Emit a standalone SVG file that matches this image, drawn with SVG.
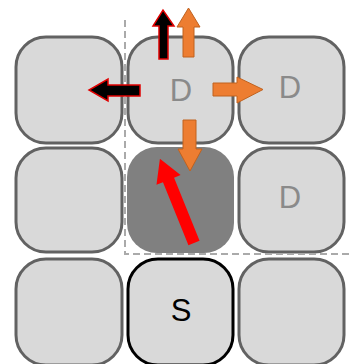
<svg xmlns="http://www.w3.org/2000/svg" width="352" height="364" viewBox="0 0 352 364">
<style>
.cell{fill:#d9d9d9;stroke:#626262;stroke-width:3}
.dark{fill:#808080;stroke:none}
.start{fill:#d9d9d9;stroke:#000;stroke-width:3}
.lbl{font-family:"Liberation Sans",Arial,sans-serif;font-size:31px;text-anchor:middle;fill:#8a8a8a}
.lblS{font-family:"Liberation Sans",Arial,sans-serif;font-size:31px;text-anchor:middle;fill:#000}
.dash{fill:none;stroke:#aaaaaa;stroke-width:2;stroke-dasharray:7,4}
.blk{fill:#000;stroke:#e00000;stroke-width:1.5;stroke-linejoin:miter}
.org{fill:#ed7d31;stroke:#c0621f;stroke-width:1}
.red{fill:#ff0000;stroke:none}
</style>
<g id="cells">
<g id="c11"><rect class="cell" x="16" y="37" width="106" height="106" rx="30"/></g>
<g id="c12"><rect class="cell" x="128" y="37" width="105" height="106" rx="30"/><text class="lbl" x="181" y="101">D</text></g>
<g id="c13"><rect class="cell" x="239" y="37" width="105" height="106" rx="30"/><text class="lbl" x="290" y="98">D</text></g>
<g id="c21"><rect class="cell" x="16" y="148" width="106" height="104" rx="30"/></g>
<g id="c22"><rect class="dark" x="127" y="147" width="107" height="106" rx="30"/></g>
<g id="c23"><rect class="cell" x="239" y="148" width="105" height="104" rx="30"/><text class="lbl" x="290" y="208">D</text></g>
<g id="c31"><rect class="cell" x="16" y="259" width="106" height="106" rx="30"/></g>
<g id="c32"><rect class="start" x="128" y="259" width="105" height="106" rx="30"/><text class="lblS" x="181" y="321">S</text></g>
<g id="c33"><rect class="cell" x="239" y="259" width="105" height="106" rx="30"/></g>
</g>
<g id="boundary">
<path class="dash" d="M125,20 V254 H352"/>
</g>
<g id="connectors">
<polygon class="blk" points="159,59 159,26 153,26 163,10 174,26 168,26 168,59"/>
<polygon class="org" points="183,57 183,27 177,27 188.5,8 200,27 194,27 194,57"/>
<polygon class="blk" points="140,85 108,85 108,79 89,90 108,101 108,96 140,96"/>
<polygon class="org" points="213,83 237,83 237,77 263,89.5 237,103 237,96 213,96"/>
<polygon class="org" points="183,120 196,120 196,149 202,149 190,171 178,149 183,149"/>
<polygon class="red" transform="translate(194,243) rotate(-22)" points="-6,0 -6,-68 -13,-68 0,-91 13,-68 6,-68 6,0"/>
</g>
</svg>
